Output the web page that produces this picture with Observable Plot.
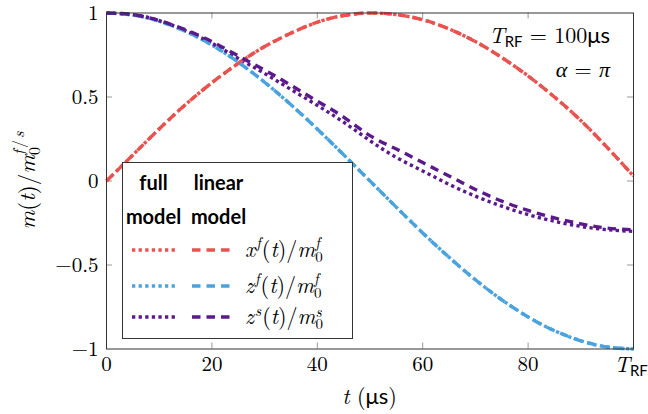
<!DOCTYPE html>
<html><head><meta charset="utf-8">
<script src="https://cdn.jsdelivr.net/npm/d3@7"></script>
<script src="https://cdn.jsdelivr.net/npm/@observablehq/plot@0.6"></script>
<style>
html,body{margin:0;padding:0;background:#fff;}
#chart{width:648px;height:414px;}
</style></head><body><div id="chart"></div>
<script>
// ---- data ----
const tValues   = [0,5,10,15,20,25,30,35,40,45,50,55,60,65,70,75,80,85,90,95,100];
const xfFull    = [0,0.155,0.31,0.455,0.585,0.70,0.80,0.88,0.945,0.985,1.0,0.99,0.96,0.905,0.83,0.735,0.625,0.50,0.36,0.20,0.03];
const xfLinear  = [0,0.155,0.31,0.455,0.585,0.70,0.80,0.88,0.945,0.985,1.0,0.99,0.96,0.905,0.83,0.735,0.625,0.50,0.36,0.20,0.03];
const zfFull    = [1,0.988,0.951,0.891,0.809,0.707,0.588,0.454,0.309,0.156,0,-0.156,-0.309,-0.454,-0.588,-0.707,-0.809,-0.891,-0.951,-0.988,-1];
const zfLinear  = [1,0.988,0.951,0.891,0.809,0.707,0.588,0.454,0.309,0.156,0,-0.156,-0.309,-0.454,-0.588,-0.707,-0.809,-0.891,-0.951,-0.988,-1];
const zsFull    = [1,0.99,0.955,0.895,0.82,0.73,0.64,0.545,0.45,0.35,0.24,0.14,0.06,-0.02,-0.09,-0.15,-0.20,-0.24,-0.27,-0.29,-0.30];
const zsLinear  = [1,0.99,0.955,0.90,0.83,0.745,0.66,0.57,0.475,0.38,0.27,0.19,0.11,0.03,-0.05,-0.12,-0.175,-0.22,-0.255,-0.28,-0.29];
const seriesNames = ["xf","zf","zs"];
const seriesColors = ["#E8534F","#4AA3DF","#5A1A8C"];
const xTicks = [0,20,40,60,80,100];
const xTickLabels = ["0","20","40","60","80",""]; // last one is T_RF (rich text)
const yTicks = [-1,-0.5,0,0.5,1];
const yTickLabels = ["\u22121","\u22120.5","0","0.5","1"];
const innerXTicks = [20,40,60,80];
const innerYTicks = [-0.5,0,0.5];

// ---- build table ----
const rows = [];
const add = (name, model, arr) => arr.forEach((v,i) => rows.push({series:name, model, t:tValues[i], v}));
add("xf","full",xfFull); add("xf","linear",xfLinear);
add("zf","full",zfFull); add("zf","linear",zfLinear);
add("zs","full",zsFull); add("zs","linear",zsLinear);

const W = 648, H = 414;
const mL = 106, mR = 15, mT = 12.5, mB = 65.5;
const innerH = H - mT - mB, innerW = W - mL - mR;
const TICK = 6;
const LW = 3.4;
const DOT = "3.3,3.3", DASH = "8.5,6";
const serif = "'Latin Modern Roman', 'Liberation Serif', serif";
const sans = "'Lato', sans-serif";

const xLab = new Map(xTicks.map((d,i)=>[d,xTickLabels[i]]));
const yLab = new Map(yTicks.map((d,i)=>[d,yTickLabels[i]]));

const plot = Plot.plot({
  width: W, height: H,
  marginLeft: mL, marginRight: mR, marginTop: mT, marginBottom: mB,
  style: {background: "white", color: "black"},
  x: {domain: [0,100]},
  y: {domain: [-1,1]},
  color: {domain: seriesNames, range: seriesColors},
  marks: [
    Plot.tickX(innerXTicks, {x: d=>d, stroke:"#999", insetTop: innerH - TICK}),
    Plot.tickX(innerXTicks, {x: d=>d, stroke:"#999", insetBottom: innerH - TICK}),
    Plot.tickY(innerYTicks, {y: d=>d, stroke:"#999", insetRight: innerW - TICK}),
    Plot.tickY(innerYTicks, {y: d=>d, stroke:"#999", insetLeft: innerW - TICK}),
    Plot.line(rows.filter(d=>d.model==="full"), {x:"t", y:"v", z:"series", stroke:"series", strokeWidth: LW, strokeDasharray: DOT, strokeLinecap:"butt", curve:"natural"}),
    Plot.line(rows.filter(d=>d.model==="linear"), {x:"t", y:"v", z:"series", stroke:"series", strokeWidth: LW, strokeDasharray: DASH, strokeLinecap:"butt", curve:"natural"}),
    Plot.frame({stroke:"#333", strokeWidth: 1}),
    Plot.axisX(xTicks, {anchor:"bottom", tickSize:0, tickPadding:7, fontSize:21, tickFormat: d=>xLab.get(d), label:null}),
    Plot.axisY(yTicks, {anchor:"left", tickSize:0, tickPadding:8, fontSize:21, tickFormat: d=>yLab.get(d), label:null})
  ]
});
document.getElementById("chart").appendChild(plot);

const svg = d3.select(plot);
svg.attr("font-family", serif).style("font-family", serif, "important");
svg.selectAll("text").attr("font-family", serif).style("font-family", serif, "important");

const xs = plot.scale("x"), ys = plot.scale("y");

function rich(parent, x, y, segs, {anchor="start", size=21, rotate=0}={}) {
  const t = parent.append("text")
    .attr("transform", `translate(${x},${y})` + (rotate ? ` rotate(${rotate})` : ""))
    .attr("text-anchor", anchor).attr("fill", "#000")
    .attr("font-family", serif).style("font-family", serif, "important")
    .style("font-size", size + "px").style("white-space", "pre");
  let cur = 0;
  for (const s of segs) {
    const sp = t.append("tspan").text(s.t);
    const shift = s.shift || 0;
    if (shift - cur !== 0) sp.attr("dy", shift - cur);
    cur = shift;
    if (s.dx) sp.attr("dx", s.dx);
    const fam = s.f === "sans" ? sans : serif;
    sp.attr("font-family", fam).style("font-family", fam, "important");
    if (s.i) sp.style("font-style", "italic");
    if (s.s) sp.style("font-size", s.s + "px");
  }
  return t;
}

const g = svg.append("g");
// T_RF tick label at x = 100
rich(g, xs.apply(100) - 2, ys.apply(-1) + 23, [
  {t:"T", i:true}, {t:"RF", f:"sans", s:15, shift:4}
], {anchor:"middle", size:22});
// annotations
rich(g, xs.apply(100) - 23, 43, [
  {t:"T", i:true}, {t:"RF", f:"sans", s:15, shift:4}, {t:" = 100", shift:0}, {t:"\u03bcs", f:"sans"}
], {anchor:"end", size:22});
rich(g, xs.apply(100) - 23, 77, [
  {t:"\u03b1", i:true}, {t:" = "}, {t:"\u03c0", i:true}
], {anchor:"end", size:22});
// axis labels
rich(g, xs.apply(50), 404, [
  {t:"t", i:true}, {t:" ("}, {t:"\u03bcs", f:"sans"}, {t:")"}
], {anchor:"middle", size:22});
rich(g, 35, ys.apply(0), [
  {t:"m", i:true}, {t:"("}, {t:"t", i:true}, {t:")/"}, {t:"m", i:true},
  {t:"0", s:16, shift:5}, {t:"f", i:true, s:16, shift:-11, dx:-8}, {t:"/", s:16, shift:-11, dx:2}, {t:"s", i:true, s:16, shift:-11, dx:2}
], {anchor:"middle", rotate:-90, size:23});

// legend
const L = svg.append("g");
L.append("rect").attr("x",122.5).attr("y",162.5).attr("width",230).attr("height",176)
  .attr("fill","white").attr("stroke","#333").attr("stroke-width",1);
const hdr = (x,y,txt)=>L.append("text").attr("x",x).attr("y",y).attr("text-anchor","middle")
  .attr("font-family", sans).style("font-family",sans,"important").style("font-weight","bold").style("font-size","20px").text(txt);
hdr(153.5,190,"full"); hdr(218.5,190,"linear");
hdr(153.5,224,"model"); hdr(218.5,224,"model");
const legendRows = [
  {y:250, c:seriesColors[0], lab:[{t:"x",i:true},{t:"f",i:true,s:15,shift:-9,dx:1},{t:"(",shift:0,dx:1},{t:"t",i:true},{t:")/"},{t:"m",i:true},{t:"0",s:15,shift:5},{t:"f",i:true,s:15,shift:-9,dx:-7.5}]},
  {y:286, c:seriesColors[1], lab:[{t:"z",i:true},{t:"f",i:true,s:15,shift:-9,dx:1},{t:"(",shift:0,dx:1},{t:"t",i:true},{t:")/"},{t:"m",i:true},{t:"0",s:15,shift:5},{t:"f",i:true,s:15,shift:-9,dx:-7.5}]},
  {y:317, c:seriesColors[2], lab:[{t:"z",i:true},{t:"s",i:true,s:15,shift:-8,dx:1},{t:"(",shift:0,dx:1},{t:"t",i:true},{t:")/"},{t:"m",i:true},{t:"0",s:15,shift:5},{t:"s",i:true,s:15,shift:-7,dx:-7.5}]}
];
for (const r of legendRows) {
  L.append("line").attr("x1",132).attr("x2",178).attr("y1",r.y).attr("y2",r.y)
    .attr("stroke",r.c).attr("stroke-width",LW).attr("stroke-dasharray",DOT);
  L.append("line").attr("x1",192).attr("x2",234).attr("y1",r.y).attr("y2",r.y)
    .attr("stroke",r.c).attr("stroke-width",LW).attr("stroke-dasharray",DASH);
  rich(L, 245, r.y + 7, r.lab, {size:22});
}
</script>
</body></html>
